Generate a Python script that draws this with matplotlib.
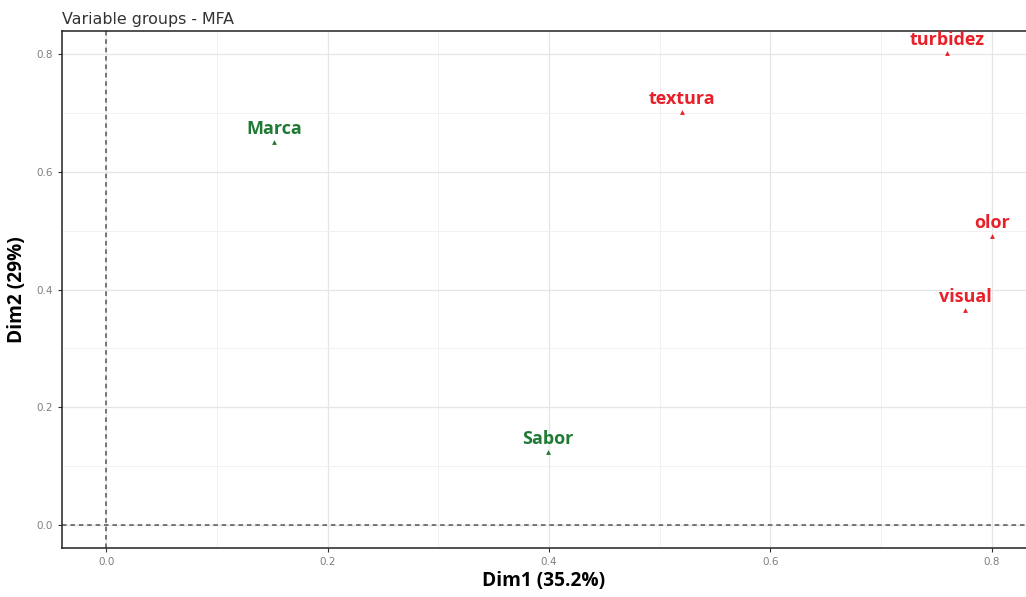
import matplotlib.pyplot as plt
from matplotlib.ticker import MultipleLocator

# group coordinates on the first two MFA dimensions
groups = ['Marca', 'Sabor', 'textura', 'turbidez', 'olor', 'visual']
dim1 = [0.152, 0.399, 0.520, 0.760, 0.800, 0.776]
dim2 = [0.650, 0.124, 0.701, 0.802, 0.491, 0.365]
colors = ['#1e7a34', '#1e7a34', '#e8202a', '#e8202a', '#e8202a', '#e8202a']

fig = plt.figure(figsize=(10.26, 5.97), dpi=100)
ax = fig.add_axes([0.0604, 0.082, 0.9396, 0.866])

ax.set_xlim(-0.04, 0.831)
ax.set_ylim(-0.039, 0.839)

ax.xaxis.set_major_locator(MultipleLocator(0.2))
ax.xaxis.set_minor_locator(MultipleLocator(0.1))
ax.yaxis.set_major_locator(MultipleLocator(0.2))
ax.yaxis.set_minor_locator(MultipleLocator(0.1))
ax.grid(which='major', color='#e6e6e6', lw=0.9)
ax.grid(which='minor', color='#f1f1f1', lw=0.7)
ax.set_axisbelow(True)

ax.axhline(0, color='#555555', ls=(0, (3, 2.5)), lw=1.1)
ax.axvline(0, color='#555555', ls=(0, (3, 2.5)), lw=1.1)

for name, x, y, c in zip(groups, dim1, dim2, colors):
    ax.scatter(x, y, marker='^', s=12, color=c, zorder=3, linewidths=0)
    ax.annotate(name, (x, y), xytext=(0, 3), textcoords='offset points',
                ha='center', va='bottom', color=c, fontsize=13,
                fontweight='bold', family='Open Sans')

for side in ['top', 'left', 'bottom']:
    ax.spines[side].set_color('#222222')
    ax.spines[side].set_linewidth(1.1)
ax.spines['right'].set_visible(False)

ax.tick_params(which='major', length=3, color='#333333', labelsize=7.5,
               labelcolor='#7f7f7f')
ax.tick_params(which='minor', length=0)

ax.set_xlabel('Dim1 (35.2%)', fontsize=13.8, fontweight='bold',
              family='Open Sans', labelpad=3)
ax.set_ylabel('Dim2 (29%)', fontsize=13.8, fontweight='bold',
              family='Open Sans', labelpad=7)
ax.set_title('Variable groups - MFA', loc='left', fontsize=11.4,
             color='#333333', pad=5)

fig.savefig('out.png', dpi=100)
